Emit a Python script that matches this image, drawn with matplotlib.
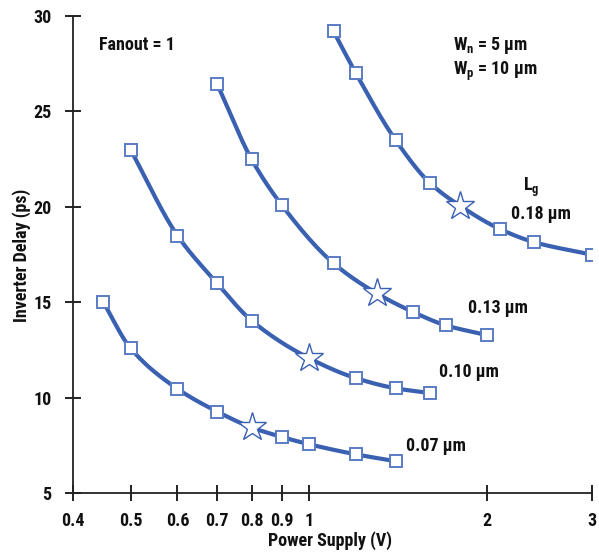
import numpy as np
import matplotlib
matplotlib.use("Agg")
import matplotlib.pyplot as plt
from matplotlib.ticker import FixedLocator, NullLocator, FixedFormatter
from matplotlib import font_manager

# ---- data ----
x007 = [0.45, 0.5, 0.6, 0.7, 0.8, 0.9, 1.0, 1.2, 1.4]
y007 = [15.0, 12.6, 10.47, 9.28, 8.45, 7.95, 7.57, 7.04, 6.68]
star007 = (0.8, 8.45)

x010 = [0.5, 0.6, 0.7, 0.8, 1.0, 1.2, 1.4, 1.6]
y010 = [23.0, 18.5, 16.0, 14.05, 12.08, 11.03, 10.5, 10.25]
star010 = (1.0, 12.08)

x013 = [0.7, 0.8, 0.9, 1.1, 1.3, 1.5, 1.7, 2.0]
y013 = [26.44, 22.5, 20.09, 17.05, 15.48, 14.49, 13.8, 13.28]
star013 = (1.3, 15.48)

x018 = [1.1, 1.2, 1.4, 1.6, 1.8, 2.1, 2.4, 3.0]
y018 = [29.2, 27.0, 23.5, 21.25, 20.05, 18.84, 18.15, 17.5]
star018 = (1.8, 20.05)

xticks = [0.4, 0.5, 0.6, 0.7, 0.8, 0.9, 1, 2, 3]
xticklabels = ["0.4", "0.5", "0.6", "0.7", "0.8", "0.9", "1", "2", "3"]
yticks = [5, 10, 15, 20, 25, 30]

# ---- style ----
names = {f.name for f in font_manager.fontManager.ttflist}
fam = "Roboto Condensed" if "Roboto Condensed" in names else "Liberation Sans"
plt.rcParams["font.family"] = [fam, "DejaVu Sans"]
plt.rcParams["font.weight"] = "bold"
plt.rcParams["mathtext.fontset"] = "custom"
plt.rcParams["mathtext.rm"] = fam + ":bold"
plt.rcParams["mathtext.it"] = fam + ":bold"
plt.rcParams["mathtext.bf"] = fam + ":bold"
plt.rcParams["mathtext.default"] = "rm"

FS = 13
blue = "#3a60b2"
edge = "#5a7cc4"

fig = plt.figure(figsize=(5.99, 5.53), dpi=100)
ax = fig.add_axes([0.122, 0.108, 0.866, 0.863])


def smooth(xs, ys, n=40):
    # monotone cubic (Fritsch-Carlson) in log-x space for rendering the curve
    lx = np.log(np.asarray(xs, float))
    y = np.asarray(ys, float)
    h = np.diff(lx)
    d = np.diff(y) / h
    m = np.zeros_like(y)
    m[0] = d[0]
    m[-1] = d[-1]
    for i in range(1, len(y) - 1):
        if d[i - 1] * d[i] <= 0:
            m[i] = 0
        else:
            w1 = 2 * h[i] + h[i - 1]
            w2 = h[i] + 2 * h[i - 1]
            m[i] = (w1 + w2) / (w1 / d[i - 1] + w2 / d[i])
    outx, outy = [], []
    for i in range(len(h)):
        t = np.linspace(0, 1, n, endpoint=(i == len(h) - 1))
        h00 = 2 * t**3 - 3 * t**2 + 1
        h10 = t**3 - 2 * t**2 + t
        h01 = -2 * t**3 + 3 * t**2
        h11 = t**3 - t**2
        yy = h00 * y[i] + h10 * h[i] * m[i] + h01 * y[i + 1] + h11 * h[i] * m[i + 1]
        outx.extend(np.exp(lx[i] + t * h[i]))
        outy.extend(yy)
    return outx, outy


for xs, ys, st in [(x007, y007, star007), (x010, y010, star010),
                   (x013, y013, star013), (x018, y018, star018)]:
    sx, sy = smooth(xs, ys)
    ax.plot(sx, sy, color=blue, lw=3, solid_capstyle="round", zorder=2)
    mx = [a for a, b in zip(xs, ys) if a != st[0]]
    my = [b for a, b in zip(xs, ys) if a != st[0]]
    ax.plot(mx, my, ls="none", marker="s", ms=8.8, mfc="white", mec=edge,
            mew=1.4, zorder=3)
    ax.plot([st[0]], [st[1]], ls="none", marker="*", ms=21, mfc="white",
            mec=blue, mew=1.0, zorder=4)

ax.set_xscale("log")
ax.set_xlim(0.4, 3.0)
ax.set_ylim(5, 30)
ax.xaxis.set_major_locator(FixedLocator(xticks))
ax.xaxis.set_major_formatter(FixedFormatter(xticklabels))
ax.xaxis.set_minor_locator(NullLocator())
ax.set_yticks(yticks)

for s in ["top", "right"]:
    ax.spines[s].set_visible(False)
for s in ["left", "bottom"]:
    ax.spines[s].set_linewidth(1.3)
    ax.spines[s].set_color("#222222")
ax.tick_params(direction="inout", length=11, width=1.3, labelsize=FS,
               colors="#111111")
ax.tick_params(axis="x", pad=8)
ax.tick_params(axis="y", pad=10)
for lab in ax.get_xticklabels() + ax.get_yticklabels():
    lab.set_fontweight("bold")


def ftext(px, py, s, **kw):
    kw.setdefault("va", "center")
    fig.text(px / 599, 1 - py / 553, s, fontsize=FS, fontweight="bold",
             color="#111111", **kw)

# axis titles
ftext(330, 541, "Power Supply (V)", ha="center")
ftext(22, 255, "Inverter Delay (ps)", ha="center", rotation=90)

ftext(99, 45, "Fanout = 1")
ftext(453, 45, r"W$_\mathregular{n}$ = 5 µm")
ftext(453, 71, r"W$_\mathregular{p}$ = 10 µm")
ftext(523, 187, r"L$_\mathregular{g}$")
ftext(511, 214, "0.18 µm")
ftext(468, 308, "0.13 µm")
ftext(439, 372, "0.10 µm")
ftext(406, 446, "0.07 µm")

fig.savefig("out.png", dpi=100)
